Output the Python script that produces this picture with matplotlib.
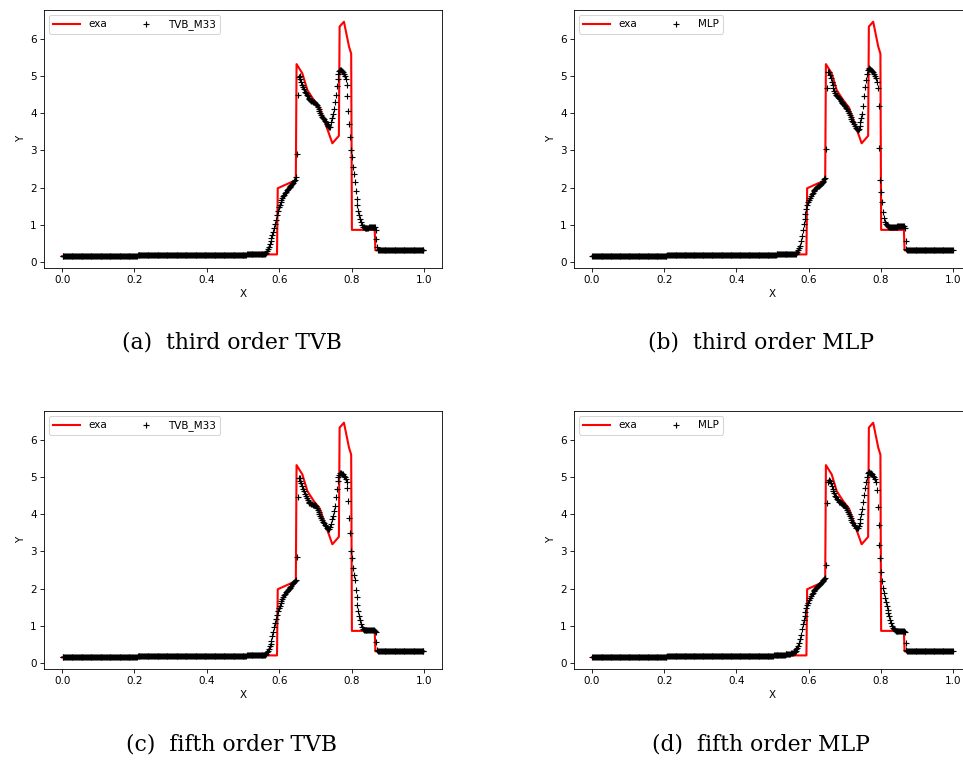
import numpy as np
import matplotlib
matplotlib.use("Agg")
import matplotlib.pyplot as plt

# exact solution (polyline vertices)
exa_x = [0.0, 0.1, 0.2, 0.3, 0.4, 0.5, 0.594, 0.596, 0.646, 0.648, 0.664, 0.678, 0.696,
         0.712, 0.724, 0.747, 0.765, 0.767, 0.779, 0.793, 0.799, 0.801, 0.864, 0.866, 1.0]
exa_y = [0.15, 0.16, 0.17, 0.18, 0.19, 0.2, 0.2, 1.98, 2.2, 5.32, 5.07, 4.62, 4.35,
         4.15, 3.82, 3.19, 3.39, 6.33, 6.46, 5.79, 5.6, 0.86, 0.86, 0.31, 0.31]

# numerical solutions on 400 cells (dx = 0.0025)
n_cells = 400

# cells 0..199 (x < 0.5), same for every scheme
left_state = [
    0.150, 0.150, 0.150, 0.151, 0.151, 0.151, 0.151, 0.152, 0.152, 0.152,
    0.152, 0.153, 0.153, 0.153, 0.153, 0.154, 0.154, 0.154, 0.154, 0.155,
    0.155, 0.155, 0.155, 0.156, 0.156, 0.156, 0.156, 0.157, 0.157, 0.157,
    0.157, 0.158, 0.158, 0.158, 0.158, 0.159, 0.159, 0.159, 0.159, 0.160,
    0.160, 0.160, 0.160, 0.161, 0.161, 0.161, 0.161, 0.162, 0.162, 0.162,
    0.162, 0.163, 0.163, 0.163, 0.163, 0.164, 0.164, 0.164, 0.164, 0.165,
    0.165, 0.165, 0.165, 0.166, 0.166, 0.166, 0.166, 0.167, 0.167, 0.167,
    0.167, 0.168, 0.168, 0.168, 0.168, 0.169, 0.169, 0.169, 0.169, 0.170,
    0.170, 0.170, 0.170, 0.171, 0.171, 0.171, 0.171, 0.172, 0.172, 0.172,
    0.172, 0.173, 0.173, 0.173, 0.173, 0.174, 0.174, 0.174, 0.174, 0.175,
    0.175, 0.175, 0.175, 0.176, 0.176, 0.176, 0.176, 0.177, 0.177, 0.177,
    0.177, 0.178, 0.178, 0.178, 0.178, 0.179, 0.179, 0.179, 0.179, 0.180,
    0.180, 0.180, 0.180, 0.181, 0.181, 0.181, 0.181, 0.182, 0.182, 0.182,
    0.182, 0.183, 0.183, 0.183, 0.183, 0.184, 0.184, 0.184, 0.184, 0.185,
    0.185, 0.185, 0.185, 0.186, 0.186, 0.186, 0.186, 0.187, 0.187, 0.187,
    0.187, 0.188, 0.188, 0.188, 0.188, 0.189, 0.189, 0.189, 0.189, 0.190,
    0.190, 0.190, 0.190, 0.191, 0.191, 0.191, 0.191, 0.192, 0.192, 0.192,
    0.192, 0.193, 0.193, 0.193, 0.193, 0.194, 0.194, 0.194, 0.194, 0.194,
    0.194, 0.194, 0.195, 0.195, 0.195, 0.195, 0.195, 0.195, 0.195, 0.195,
    0.195, 0.195, 0.196, 0.196, 0.196, 0.196, 0.196, 0.196, 0.196, 0.196]

# cells 350..399 (x > 0.875)
right_state = [
    0.325, 0.323, 0.322, 0.321, 0.320, 0.320, 0.320, 0.320, 0.320, 0.320,
    0.320, 0.320, 0.320, 0.320, 0.320, 0.320, 0.320, 0.320, 0.320, 0.320,
    0.320, 0.320, 0.320, 0.320, 0.320, 0.320, 0.320, 0.320, 0.320, 0.320,
    0.320, 0.320, 0.320, 0.320, 0.320, 0.320, 0.320, 0.320, 0.320, 0.320,
    0.320, 0.320, 0.320, 0.320, 0.320, 0.320, 0.320, 0.320, 0.320, 0.320]

# cells 200..349 (0.5 < x < 0.875), one list per scheme
tvb3_mid = [
    0.196, 0.196, 0.197, 0.197, 0.198, 0.198, 0.199, 0.199, 0.200, 0.200,
    0.201, 0.201, 0.202, 0.202, 0.203, 0.203, 0.204, 0.204, 0.205, 0.205,
    0.205, 0.206, 0.208, 0.212, 0.22, 0.25, 0.29, 0.34, 0.41, 0.47,
    0.55, 0.63, 0.71, 0.80, 0.90, 1.02, 1.13, 1.25, 1.38, 1.47,
    1.54, 1.60, 1.66, 1.71, 1.76, 1.80, 1.84, 1.88, 1.92, 1.95,
    1.98, 2.01, 2.04, 2.07, 2.10, 2.13, 2.17, 2.21, 2.29, 2.89,
    4.49, 4.98, 5.00, 4.92, 4.85, 4.77, 4.70, 4.64, 4.58, 4.53,
    4.49, 4.45, 4.41, 4.38, 4.36, 4.34, 4.32, 4.31, 4.29, 4.27,
    4.25, 4.21, 4.16, 4.11, 4.06, 4.00, 3.95, 3.90, 3.86, 3.83,
    3.79, 3.75, 3.72, 3.68, 3.65, 3.62, 3.64, 3.75, 3.87, 3.98,
    4.12, 4.30, 4.50, 4.72, 4.92, 5.06, 5.14, 5.17, 5.16, 5.13,
    5.10, 5.06, 5.01, 4.93, 4.75, 4.45, 4.05, 3.70, 3.35, 3.00,
    2.82, 2.55, 2.35, 2.15, 1.90, 1.70, 1.52, 1.38, 1.26, 1.16,
    1.06, 0.99, 0.95, 0.93, 0.92, 0.92, 0.92, 0.92, 0.92, 0.93,
    0.93, 0.93, 0.93, 0.94, 0.94, 0.93, 0.86, 0.62, 0.40, 0.33]
mlp3_mid = [
    0.196, 0.196, 0.197, 0.197, 0.198, 0.198, 0.199, 0.199, 0.200, 0.200,
    0.201, 0.201, 0.202, 0.202, 0.203, 0.203, 0.204, 0.204, 0.205, 0.205,
    0.205, 0.206, 0.207, 0.209, 0.212, 0.22, 0.24, 0.27, 0.31, 0.36,
    0.43, 0.55, 0.70, 0.87, 1.02, 1.16, 1.30, 1.42, 1.52, 1.60,
    1.66, 1.72, 1.77, 1.82, 1.86, 1.90, 1.93, 1.96, 1.99, 2.01,
    2.03, 2.05, 2.08, 2.10, 2.12, 2.15, 2.18, 2.22, 2.25, 3.04,
    4.67, 5.12, 5.10, 5.03, 4.94, 4.85, 4.76, 4.67, 4.60, 4.54,
    4.50, 4.46, 4.43, 4.40, 4.37, 4.33, 4.30, 4.27, 4.24, 4.21,
    4.18, 4.14, 4.10, 4.06, 4.01, 3.95, 3.90, 3.85, 3.80, 3.76,
    3.71, 3.66, 3.61, 3.57, 3.56, 3.58, 3.65, 3.75, 3.86, 3.98,
    4.20, 4.45, 4.70, 4.90, 5.06, 5.15, 5.20, 5.21, 5.19, 5.16,
    5.13, 5.10, 5.06, 5.01, 4.95, 4.85, 4.68, 4.18, 3.07, 2.20,
    1.89, 1.60, 1.35, 1.18, 1.08, 1.03, 0.99, 0.97, 0.96, 0.95,
    0.95, 0.95, 0.95, 0.95, 0.95, 0.95, 0.95, 0.95, 0.96, 0.96,
    0.96, 0.96, 0.96, 0.97, 0.97, 0.96, 0.90, 0.55, 0.34, 0.32]
tvb5_mid = [
    0.196, 0.196, 0.197, 0.197, 0.198, 0.198, 0.199, 0.199, 0.200, 0.200,
    0.201, 0.201, 0.202, 0.202, 0.203, 0.203, 0.204, 0.204, 0.205, 0.205,
    0.205, 0.206, 0.207, 0.209, 0.215, 0.24, 0.28, 0.33, 0.38, 0.45,
    0.52, 0.60, 0.72, 0.84, 0.96, 1.07, 1.18, 1.29, 1.40, 1.48,
    1.54, 1.60, 1.66, 1.72, 1.77, 1.82, 1.86, 1.90, 1.94, 1.97,
    2.00, 2.02, 2.05, 2.08, 2.11, 2.14, 2.17, 2.20, 2.24, 2.84,
    4.47, 4.96, 4.96, 4.90, 4.83, 4.76, 4.69, 4.62, 4.55, 4.49,
    4.43, 4.38, 4.34, 4.31, 4.29, 4.28, 4.27, 4.26, 4.26, 4.25,
    4.22, 4.17, 4.12, 4.06, 4.00, 3.94, 3.89, 3.84, 3.79, 3.75,
    3.71, 3.67, 3.64, 3.61, 3.59, 3.60, 3.66, 3.74, 3.86, 3.96,
    4.08, 4.22, 4.45, 4.69, 4.88, 4.99, 5.06, 5.10, 5.10, 5.09,
    5.07, 5.04, 5.00, 4.95, 4.87, 4.70, 4.35, 3.90, 3.50, 3.00,
    2.81, 2.55, 2.37, 2.23, 1.95, 1.78, 1.56, 1.40, 1.27, 1.16,
    1.04, 0.96, 0.91, 0.89, 0.88, 0.88, 0.88, 0.88, 0.88, 0.88,
    0.88, 0.88, 0.88, 0.88, 0.88, 0.87, 0.84, 0.55, 0.35, 0.32]
mlp5_mid = [
    0.197, 0.198, 0.199, 0.200, 0.201, 0.203, 0.205, 0.207, 0.209, 0.211,
    0.213, 0.216, 0.219, 0.222, 0.226, 0.230, 0.234, 0.239, 0.244, 0.250,
    0.256, 0.262, 0.270, 0.280, 0.29, 0.32, 0.36, 0.40, 0.45, 0.53,
    0.64, 0.76, 0.90, 1.04, 1.16, 1.27, 1.38, 1.48, 1.55, 1.62,
    1.68, 1.74, 1.79, 1.84, 1.88, 1.92, 1.95, 1.98, 2.01, 2.04,
    2.07, 2.10, 2.13, 2.16, 2.18, 2.20, 2.22, 2.25, 2.27, 2.63,
    4.29, 4.87, 4.92, 4.88, 4.83, 4.76, 4.69, 4.62, 4.56, 4.50,
    4.45, 4.41, 4.37, 4.34, 4.32, 4.30, 4.29, 4.28, 4.26, 4.25,
    4.21, 4.16, 4.11, 4.06, 4.01, 3.95, 3.89, 3.84, 3.79, 3.75,
    3.71, 3.67, 3.64, 3.62, 3.63, 3.68, 3.76, 3.88, 4.00, 4.15,
    4.32, 4.52, 4.70, 4.87, 5.00, 5.10, 5.13, 5.14, 5.12, 5.10,
    5.07, 5.04, 5.00, 4.95, 4.87, 4.65, 4.20, 3.71, 3.17, 2.81,
    2.45, 2.19, 2.02, 1.87, 1.75, 1.65, 1.53, 1.43, 1.33, 1.25,
    1.15, 1.07, 0.99, 0.93, 0.90, 0.88, 0.87, 0.87, 0.87, 0.87,
    0.87, 0.87, 0.87, 0.87, 0.86, 0.86, 0.84, 0.53, 0.35, 0.33]

labels = ['TVB_M33', 'MLP', 'TVB_M33', 'MLP']
captions = ['(a)  third order TVB', '(b)  third order MLP',
            '(c)  fifth order TVB', '(d)  fifth order MLP']
mids = [tvb3_mid, mlp3_mid, tvb5_mid, mlp5_mid]

W, H = 963, 761
DPI = 75
fig = plt.figure(figsize=(W / DPI, H / DPI), dpi=DPI)
fig.set_facecolor('white')

# axes boxes in pixels: left, top, right, bottom
boxes = [(44, 10, 442, 268), (574, 10, 971, 268),
         (44, 411, 442, 669), (574, 411, 971, 669)]
cap_pos = [(232, 343), (761, 343), (232, 745), (761, 745)]

x_cells = (np.arange(n_cells) + 0.5) / n_cells

for k in range(4):
    l, t, r, b = boxes[k]
    ax = fig.add_axes([l / W, 1 - b / H, (r - l) / W, (b - t) / H])
    num_y = np.array(left_state + mids[k] + right_state)
    ax.plot(exa_x, exa_y, color='red', lw=2, label='exa')
    ax.plot(x_cells, num_y, '+', color='black', ms=6, mew=1.1, label=labels[k])
    ax.set_xlabel('X')
    ax.set_ylabel('Y')
    ax.legend(loc='upper left', ncol=2, handlelength=2.6, columnspacing=2.4)
    cx, cy = cap_pos[k]
    fig.text(cx / W, 1 - cy / H, captions[k], ha='center', va='center',
             family='DejaVu Serif', fontsize=21)

fig.savefig('out.png', dpi=DPI)
